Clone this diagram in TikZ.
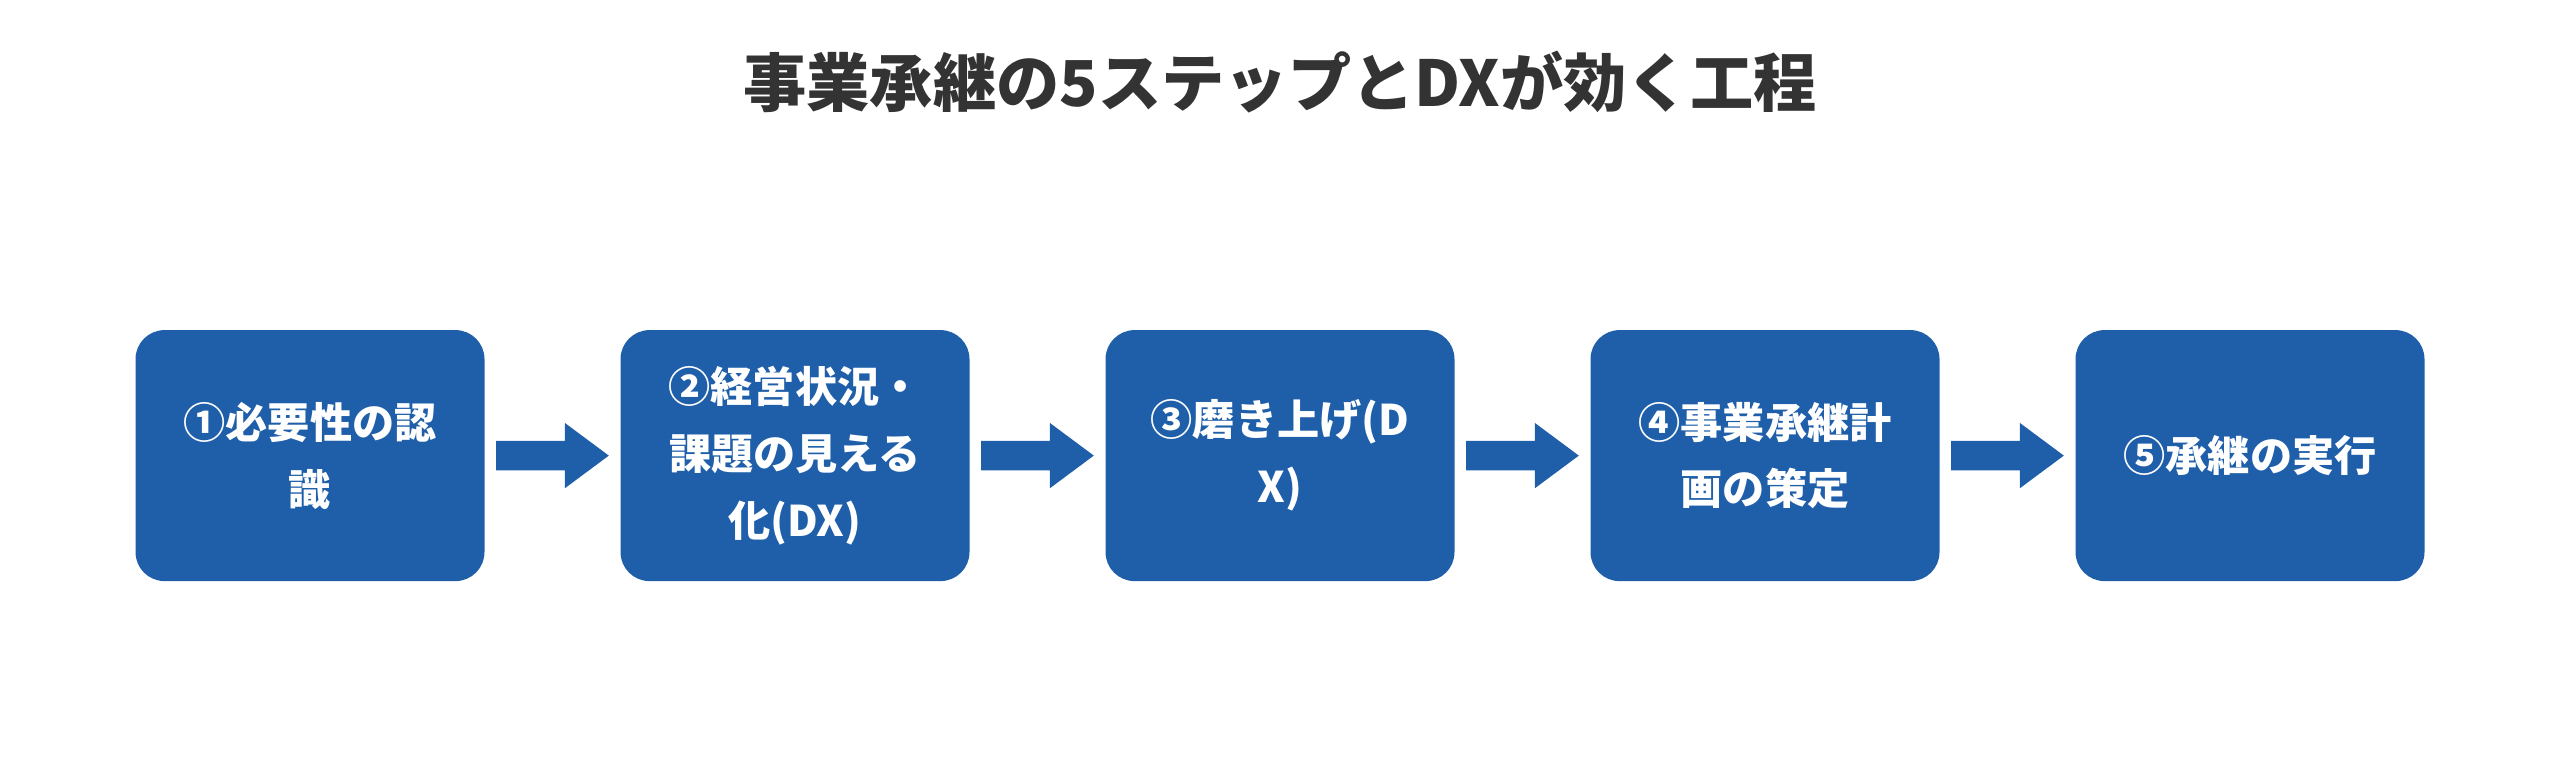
\documentclass[tikz,border=0pt]{standalone}
\usepackage{fontspec}
\setmainfont{Noto Sans CJK JP}
\usetikzlibrary{calc}
\definecolor{stepblue}{HTML}{1F5FAA}
\definecolor{titlegray}{HTML}{333333}
\tikzset{
  stepbox/.style = {fill=stepblue,rounded corners=0.29cm,minimum width=3.49cm,minimum height=2.51cm,
    text=white,font=\bfseries\fontsize{12}{19}\selectfont,align=center,inner sep=0pt},
  flow/.style = {fill=stepblue}
}
\begin{document}
\begin{tikzpicture}
\useasboundingbox (0,0) rectangle (25.6,-7.56);

\node[text=titlegray,font=\bfseries\fontsize{18}{22}\selectfont] (title) at (12.8,-0.82) {事業承継の5ステップとDXが効く工程};

\node[stepbox] (s1) at (3.10,-4.556) {①必要性の認\\識};
\node[stepbox] (s2) at (7.95,-4.556) {②経営状況・\\課題の見える\\化(DX)};
\node[stepbox] (s3) at (12.80,-4.556) {③磨き上げ(D\\X)};
\node[stepbox] (s4) at (17.65,-4.556) {④事業承継計\\画の策定};
\node[stepbox] (s5) at (22.50,-4.556) {⑤承継の実行};

% arrows between steps
\foreach \a/\b in {s1/s2,s2/s3,s3/s4,s4/s5}{
  \fill[flow] ($(\a.east)!0.5!(\b.west)$) ++(-0.563,0.147) -- ++(0.686,0) -- ++(0,0.180)
    -- ++(0.440,-0.327) -- ++(-0.440,-0.327) -- ++(0,0.180) -- ++(-0.686,0) -- cycle;
}
\end{tikzpicture}
\end{document}
